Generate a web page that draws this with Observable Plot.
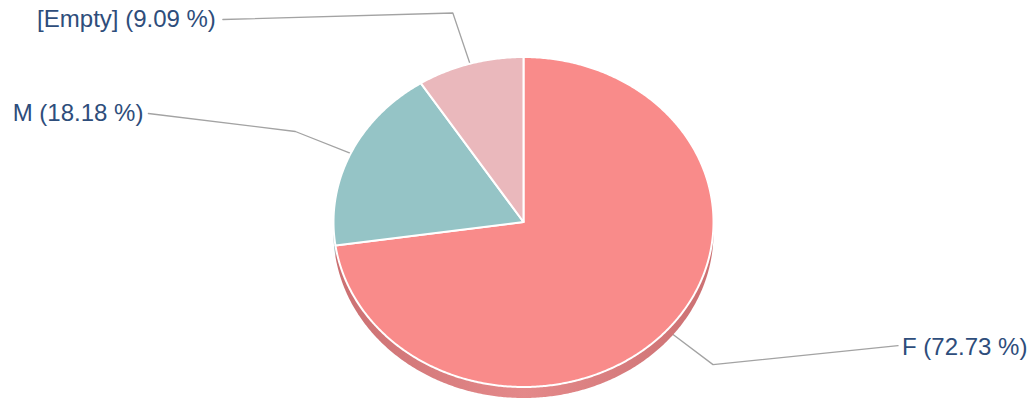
<!DOCTYPE html>
<html>
<head>
<meta charset="utf-8">
<script src="https://cdn.jsdelivr.net/npm/d3@7"></script>
<script src="https://cdn.jsdelivr.net/npm/@observablehq/plot@0.6"></script>
<style>
  html, body { margin: 0; padding: 0; background: #ffffff; }
  #chart svg { display: block; }
</style>
</head>
<body>
<div id="chart"></div>
<script>
// ---- data ----
const categories = ["F", "M", "[Empty]"];
const values = [72.73, 18.18, 9.09];
const labels = ["F (72.73 %)", "M (18.18 %)", "[Empty] (9.09 %)"];

// ---- styles / layout ----
const topColors = ["#f98b8a", "#95c4c6", "#eab8bc"];
const sideEdge = ["#cb7072", "#7ba4a6", "#c49a9d"];
const sideMid = ["#e4898a", "#8fb8ba", "#d8acaf"];
const textColor = "#2e4d7b";
const leaderColor = "#a3a3a3";
const W = 1034, H = 405;
const cx = 523, cy = 221.5, rx = 190, ry = 165, depthPx = 11;
const elbowR = 1.32;
// label end offsets from the elbow, in px
const labelShift = [[185, -19], [-147, -18], [-230, 6.5]];
const labelAnchor = ["start", "end", "end"];
const labelDx = [4, -5, -7];
const labelDy = [2, 0, 0];

const d = depthPx / ry;
const rad = (deg) => deg * Math.PI / 180;
const pt = (deg, r = 1, off = 0) => ({x: r * Math.sin(rad(deg)), y: -r * Math.cos(rad(deg)) + off});

const total = d3.sum(values);
let acc = 0;
const slices = values.map((v, i) => {
  const a0 = acc / total * 360;
  acc += v;
  const a1 = acc / total * 360;
  return {i, a0, a1, mid: (a0 + a1) / 2};
});

function arcPts(a0, a1, off = 0) {
  const n = Math.max(2, Math.ceil((a1 - a0) / 0.5));
  return d3.range(n + 1).map(k => pt(a0 + (a1 - a0) * k / n, 1, off));
}

const marks = [];

// gradient definitions for the 3D sides
marks.push(() => {
  const defs = d3.create("svg:defs");
  slices.forEach(s => {
    const g = defs.append("linearGradient").attr("id", "side" + s.i)
      .attr("x1", "0").attr("x2", "1").attr("y1", "0").attr("y2", "0");
    g.append("stop").attr("offset", "0%").attr("stop-color", sideEdge[s.i]);
    g.append("stop").attr("offset", "50%").attr("stop-color", sideMid[s.i]);
    g.append("stop").attr("offset", "100%").attr("stop-color", sideEdge[s.i]);
  });
  return defs.node();
});

// leader lines (drawn first, under the pie)
slices.forEach(s => {
  const p0 = pt(s.mid, 1);
  const p1 = pt(s.mid, elbowR);
  const [sx, sy] = labelShift[s.i];
  const p2 = {x: p1.x + sx / rx, y: p1.y + sy / ry};
  s.labelPt = p2;
  marks.push(Plot.line([p0, p1, p2], {x: "x", y: "y", stroke: leaderColor, strokeWidth: 1.3}));
});

// 3D sides (bottom half only)
slices.forEach(s => {
  const b0 = Math.max(s.a0, 90), b1 = Math.min(s.a1, 270);
  if (b1 <= b0) return;
  const pts = [...arcPts(b0, b1, 0), ...arcPts(b0, b1, d).reverse()];
  marks.push(Plot.line(pts, {x: "x", y: "y", fill: `url(#side${s.i})`, stroke: "none", curve: "linear-closed"}));
});

// top faces
slices.forEach(s => {
  const pts = [{x: 0, y: 0}, ...arcPts(s.a0, s.a1, 0)];
  marks.push(Plot.line(pts, {x: "x", y: "y", fill: topColors[s.i], stroke: "#ffffff", strokeWidth: 2, strokeLinejoin: "round", curve: "linear-closed"}));
});

// labels
slices.forEach(s => {
  marks.push(Plot.text([s.labelPt], {
    x: "x", y: "y", text: () => labels[s.i],
    textAnchor: labelAnchor[s.i], dx: labelDx[s.i], dy: labelDy[s.i],
    fill: textColor, fontSize: 24, fontFamily: "Liberation Sans, Arial, sans-serif"
  }));
});

const chart = Plot.plot({
  width: W, height: H,
  margin: 0,
  x: {type: "linear", domain: [-cx / rx, (W - cx) / rx], range: [0, W], axis: null},
  y: {type: "linear", domain: [-cy / ry, (H - cy) / ry], range: [0, H], axis: null},
  style: {background: "#ffffff", overflow: "visible"},
  marks
});
document.getElementById("chart").appendChild(chart);
</script>
</body>
</html>
